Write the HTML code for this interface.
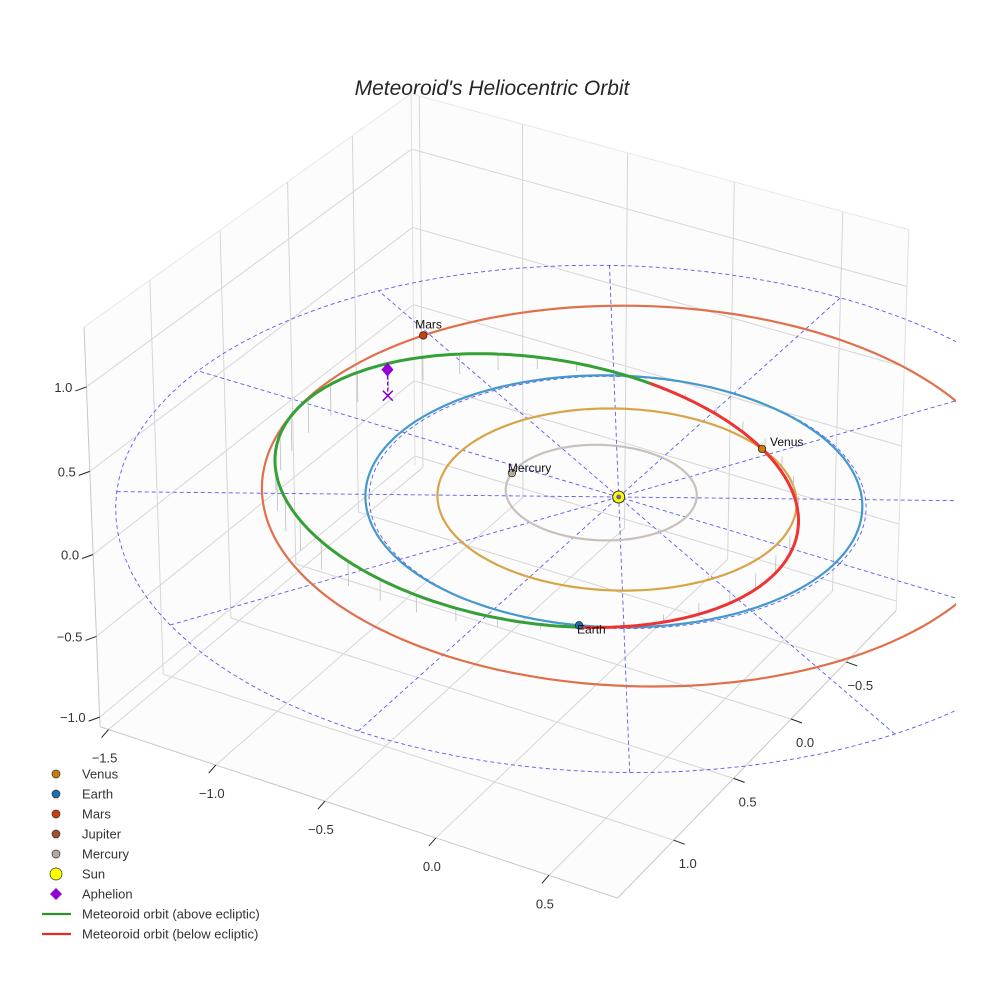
<!DOCTYPE html>
<html><head><meta charset="utf-8"><style>
html,body{margin:0;padding:0;background:#fff}
svg{display:block;font-family:"Liberation Sans",sans-serif}
</style></head><body>
<svg id="chart" width="984" height="984" viewBox="0 0 984 984">
<defs><clipPath id="ax"><rect x="0" y="0" width="956" height="984"/></clipPath></defs>
<text x="492" y="95" text-anchor="middle" font-size="21" font-style="italic" fill="#262626">Meteoroid's Heliocentric Orbit</text>
<g id="grid"></g>
<g id="plot" clip-path="url(#ax)"></g>
<g id="ticks"></g>
<g id="legend"></g>
</svg>
<script>
// ---- data ----
const xTicks = [-1.5, -1.0, -0.5, 0.0, 0.5];
const yTicks = [-0.5, 0.0, 0.5, 1.0];
const zTicks = [-1.0, -0.5, 0.0, 0.5, 1.0];
const planetNames = ["Mercury", "Venus", "Earth", "Mars"];
const planetA = [0.387, 0.723, 1.0, 1.524];
const planetE = [0.206, 0.007, 0.017, 0.093];
const planetPeri = [0, 0, 0, 100];
const planetAngle = [173, -64, 70, 209];
const meteorCenter = [-0.29, 0.14];
const meteorAxes = [1.05, 1.03];
const meteorRot = [150];
const meteorNode = [69];
const meteorSlope = [0.16];
const aphelion = [-1.22, -0.23, 0.165];
const refCircles = [1.0, 2.0];
const refAngles = [0, 30, 60, 90, 120, 150];
const legendLabels = ["Venus","Earth","Mars","Jupiter","Mercury","Sun","Aphelion","Meteoroid orbit (above ecliptic)","Meteoroid orbit (below ecliptic)"];

// ---- projection calibration (box geometry) ----
const box = {x0:-1.54,x1:0.8,y0:-0.97,y1:1.45,z0:-1.06,z1:1.35};
const calib = [
 [0,0,0,617,493],[0,0,0,617,493],[0,0,0,617,493],
 [0,1.45,-1.06,439,838],[0.5,1.45,-1.06,552,875],[-1.0,1.45,-1.06,225,767],
 [0.8,1.0,-1.06,672,845],[0.8,0,-1.06,790,723],[0.8,-0.5,-1.06,845,666],
 [-1.54,1.45,1.0,84,386],[-1.54,1.45,-1.0,97,716],[-1.54,-0.97,1.35,418,100],[0.8,-0.97,1.35,912,230],
 [-1.54,1.45,-1.06,98,726],[0.8,1.45,-1.06,619,894],[0.8,-0.97,-1.06,895,613],[-1.54,1.45,1.35,80,330],
 [-1,-1.732,0,608,262],[-1,-1.732,0,608,262],[1,1.732,0,628,770],[-1.732,1,0,116,493]
];
function solve(M,b){const n=b.length;const A=M.map((r,i)=>r.concat([b[i]]));
 for(let c=0;c<n;c++){let p=c;for(let r=c+1;r<n;r++)if(Math.abs(A[r][c])>Math.abs(A[p][c]))p=r;
  [A[c],A[p]]=[A[p],A[c]];for(let r=0;r<n;r++){if(r===c)continue;const f=A[r][c]/A[c][c];for(let k=c;k<=n;k++)A[r][k]-=f*A[c][k];}}
 return A.map((r,i)=>r[n]/r[i]);}
const NtN=Array.from({length:11},()=>Array(11).fill(0)),Ntb=Array(11).fill(0);
calib.forEach(([X,Y,Z,u,v])=>{
 const rows=[[X,Y,Z,1,0,0,0,0,-u*X,-u*Y,-u*Z,u],[0,0,0,0,X,Y,Z,1,-v*X,-v*Y,-v*Z,v]];
 rows.forEach(r=>{for(let i=0;i<11;i++){Ntb[i]+=r[i]*r[11];for(let j=0;j<11;j++)NtN[i][j]+=r[i]*r[j];}});
});
const P=solve(NtN,Ntb);
function proj(x,y,z){const w=P[8]*x+P[9]*y+P[10]*z+1;return [(P[0]*x+P[1]*y+P[2]*z+P[3])/w,(P[4]*x+P[5]*y+P[6]*z+P[7])/w];}

const NS="http://www.w3.org/2000/svg";
function mk(tag,attrs,parent){const e=document.createElementNS(NS,tag);for(const k in attrs)e.setAttribute(k,attrs[k]);parent.appendChild(e);return e;}
function ptsStr(arr){return arr.map(p=>p[0].toFixed(1)+","+p[1].toFixed(1)).join(" ");}
const grid=document.getElementById('grid'),plot=document.getElementById('plot'),ticks=document.getElementById('ticks'),legend=document.getElementById('legend');
const rad=d=>d*Math.PI/180;

// ---- grid & panes ----
function gl(a,b,name,col,w){const p=proj(...a),q=proj(...b);
 const l=mk('line',{x1:p[0],y1:p[1],x2:q[0],y2:q[1],stroke:col||'#d6d6d6','stroke-width':w||1},grid);
 }
const B=box;
[[[B.x0,B.y0,B.z0],[B.x0,B.y1,B.z0],[B.x0,B.y1,B.z1],[B.x0,B.y0,B.z1]],
 [[B.x0,B.y0,B.z0],[B.x1,B.y0,B.z0],[B.x1,B.y0,B.z1],[B.x0,B.y0,B.z1]],
 [[B.x0,B.y0,B.z0],[B.x1,B.y0,B.z0],[B.x1,B.y1,B.z0],[B.x0,B.y1,B.z0]]].forEach(q=>{
 const pg=mk('polygon',{points:ptsStr(q.map(p=>proj(...p))),fill:'#fcfcfc',stroke:'none'},grid);
 });
xTicks.forEach(x=>{gl([x,B.y0,B.z0],[x,B.y1,B.z0],'x-gridline');gl([x,B.y0,B.z0],[x,B.y0,B.z1],'x-gridline');});
yTicks.forEach(y=>{gl([B.x0,y,B.z0],[B.x1,y,B.z0],'y-gridline');gl([B.x0,y,B.z0],[B.x0,y,B.z1],'y-gridline');});
zTicks.forEach(z=>{gl([B.x0,B.y0,z],[B.x0,B.y1,z],'z-gridline');gl([B.x0,B.y0,z],[B.x1,B.y0,z],'z-gridline');});
gl([B.x0,B.y1,B.z0],[B.x1,B.y1,B.z0],'x-axis-line','#c8c8c8');
gl([B.x1,B.y1,B.z0],[B.x1,B.y0,B.z0],'y-axis-line','#c8c8c8');
gl([B.x0,B.y1,B.z0],[B.x0,B.y1,B.z1],'z-axis-line','#c8c8c8');
gl([B.x0,B.y0,B.z0],[B.x0,B.y0,B.z1],'pane-edge','#e0e0e0');
gl([B.x0,B.y1,B.z1],[B.x0,B.y0,B.z1],'pane-edge','#e8e8e8');
gl([B.x0,B.y0,B.z1],[B.x1,B.y0,B.z1],'pane-edge','#e8e8e8');
gl([B.x1,B.y0,B.z0],[B.x1,B.y0,B.z1],'pane-edge','#e0e0e0');

// ---- ticks ----
function tk(p,d,label,off,anchor,name){const a=proj(...p);
 const t=mk('line',{x1:a[0],y1:a[1],x2:a[0]+d[0],y2:a[1]+d[1],stroke:'#222','stroke-width':1},ticks);
 
 const tx=mk('text',{x:a[0]+off[0],y:a[1]+off[1],'font-size':13,fill:'#333','text-anchor':anchor},ticks);
 tx.textContent=label.replace('-','\u2212');}
xTicks.forEach(x=>tk([x,B.y1,B.z0],[-7,8],x.toFixed(1),[-4,33],'middle','x'));
yTicks.forEach(y=>tk([B.x1,y,B.z0],[11,4],y.toFixed(1),[14,28],'middle','y'));
zTicks.forEach(z=>tk([B.x0,B.y1,z],[-11,4],z.toFixed(1),[-14,5],'end','z'));

// ---- reference dashed lines ----
refCircles.forEach(r=>{const pts=[];for(let t=0;t<=360;t+=3)pts.push(proj(r*Math.cos(rad(t)),r*Math.sin(rad(t)),0));
 const pl=mk('polyline',{points:ptsStr(pts),fill:'none',stroke:'#5a5af0','stroke-width':0.9,'stroke-dasharray':'4,3'},plot);
 });
refAngles.forEach(a=>{const R=refCircles[refCircles.length-1];
 const p=proj(R*Math.cos(rad(a)),R*Math.sin(rad(a)),0),q=proj(-R*Math.cos(rad(a)),-R*Math.sin(rad(a)),0);
 const l=mk('line',{x1:p[0],y1:p[1],x2:q[0],y2:q[1],stroke:'#5a5af0','stroke-width':0.9,'stroke-dasharray':'4,3'},plot);
 });

// ---- planet orbits ----
const orbitCol={Mercury:'#c9c0bb',Venus:'#d8a448',Earth:'#4499cc',Mars:'#e0704c'};
const dotCol={Mercury:'#b5aaa3',Venus:'#c77c0a',Earth:'#1f6fb0',Mars:'#c8400e'};
function planetPos(i,th){const a=planetA[i],e=planetE[i];const r=a*(1-e*e)/(1+e*Math.cos(rad(th-planetPeri[i])));return [r*Math.cos(rad(th)),r*Math.sin(rad(th)),0];}
planetNames.forEach((n,i)=>{const pts=[];for(let t=0;t<=360;t+=2)pts.push(proj(...planetPos(i,t)));
 const pl=mk('polyline',{points:ptsStr(pts),fill:'none',stroke:orbitCol[n],'stroke-width':2.2},plot);
 });

// ---- meteoroid orbit ----
function meteor(t){const c=Math.cos(rad(meteorRot[0])),s=Math.sin(rad(meteorRot[0]));
 const lx=meteorAxes[0]*Math.cos(rad(t)),ly=meteorAxes[1]*Math.sin(rad(t));
 const X=meteorCenter[0]+lx*c-ly*s,Y=meteorCenter[1]+lx*s+ly*c;
 const d=-Math.sin(rad(meteorNode[0]))*X+Math.cos(rad(meteorNode[0]))*Y;return [X,Y,meteorSlope[0]*d];}
for(let t=0;t<360;t+=9){const m=meteor(t);const a=proj(...m),b=proj(m[0],m[1],0);
 const l=mk('line',{x1:a[0],y1:a[1],x2:b[0],y2:b[1],stroke:'#bdbdbd','stroke-width':0.8},plot);
 }
let seg=[],sign=null;
function flush(){if(seg.length>1){const pl=mk('polyline',{points:ptsStr(seg),fill:'none',stroke:sign>0?'#35a035':'#ee3333','stroke-width':3,'stroke-linecap':'round'},plot);
 }}
for(let t=0;t<=360;t+=1){const m=meteor(t);const sg=m[2]>=0?1:-1;const p=proj(...m);
 if(sign!==null&&sg!==sign){seg.push(p);flush();seg=[p];}else seg.push(p);sign=sg;}
flush();

// ---- aphelion ----
(function(){const a=proj(...aphelion),b=proj(aphelion[0],aphelion[1],0);
 const l=mk('line',{x1:a[0],y1:a[1],x2:b[0],y2:b[1],stroke:'#9400d3','stroke-width':1.3,'stroke-dasharray':'4,2'},plot);
 
 const x=mk('path',{d:`M${b[0]-5},${b[1]-5}L${b[0]+5},${b[1]+5}M${b[0]-5},${b[1]+5}L${b[0]+5},${b[1]-5}`,stroke:'#9400d3','stroke-width':1.5},plot);
 
 const d=mk('path',{d:`M${a[0]},${a[1]-7}L${a[0]+6},${a[1]}L${a[0]},${a[1]+7}L${a[0]-6},${a[1]}Z`,fill:'#9400d3'},plot);
 })();

// ---- planets & sun ----
const labOff={Mercury:[-4,-1,'start'],Venus:[8,-3,'start'],Earth:[-2,8,'start'],Mars:[-8,-7,'start']};
planetNames.forEach((n,i)=>{const p=proj(...planetPos(i,planetAngle[i]));
 const c=mk('circle',{cx:p[0],cy:p[1],r:3.8,fill:dotCol[n],stroke:'#222','stroke-width':0.7},plot);
 
 const o=labOff[n];const t=mk('text',{x:p[0]+o[0],y:p[1]+o[1],'font-size':12,fill:'#111','text-anchor':o[2]},plot);
 t.textContent=n;});
(function(){const p=proj(0,0,0);const c=mk('circle',{cx:p[0],cy:p[1],r:6,fill:'#ffff00',stroke:'#333','stroke-width':1},plot);
 
 const c2=mk('circle',{cx:p[0],cy:p[1],r:2.5,fill:'#6a6aa0'},plot);})();

// ---- legend ----
const legMark=[['c','#c77c0a',4],['c','#1f6fb0',4],['c','#c8400e',4],['c','#a0522d',4],['c','#b5aaa3',4],['c','#ffff00',6],['d','#9400d3',6],['l','#2a922a'],['l','#e82828']];
legendLabels.forEach((lab,i)=>{const y=774+i*20;const m=legMark[i];let e;
 if(m[0]==='c')e=mk('circle',{cx:56,cy:y,r:m[2],fill:m[1],stroke:'#333','stroke-width':0.7},legend);
 else if(m[0]==='d')e=mk('path',{d:`M56,${y-6}L62,${y}L56,${y+6}L50,${y}Z`,fill:m[1]},legend);
 else e=mk('line',{x1:42,y1:y,x2:71,y2:y,stroke:m[1],'stroke-width':2.2},legend);
 
 const t=mk('text',{x:82,y:y+4.5,'font-size':13,fill:'#333'},legend);t.textContent=lab;
 });
</script>
</body></html>
